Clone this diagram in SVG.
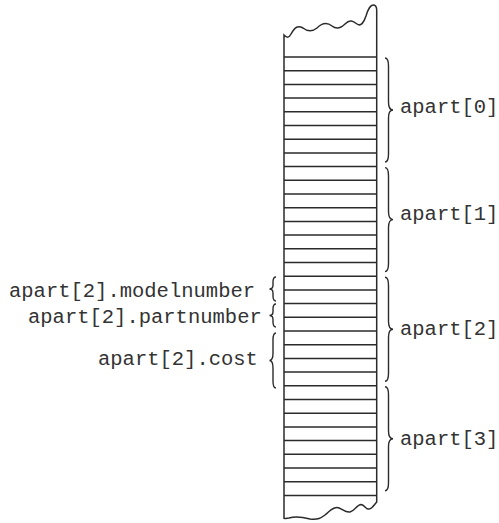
<svg xmlns="http://www.w3.org/2000/svg" width="499" height="523" viewBox="0 0 499 523">
<style>
.ln{fill:none;stroke:#2b2b2b;stroke-width:1.5}
.br{fill:none;stroke:#2b2b2b;stroke-width:1.4}
.t{font-family:"Liberation Mono","Courier New",monospace;font-size:20.5px;fill:#333}
</style>
<rect width="499" height="523" fill="#fff"/>
<g id="memory">
<path class="ln" d="M284,35 C287,38 289,38 291,34 C295,27 298,25 303,28 C308,32 312,32 317,28 C322,23 327,22 332,26 C337,30 341,28 345,24 C350,19 353,21 357,24 C361,27 364,22 366,16 C368,9 371,5 373,5 C376,5 376.7,7 376.7,10 L376.7,502 C374,505 372,509 369,509 C366,510 365,505 361,504.5 C357,504.5 355,511 350,512 C345,513 341,507.5 337,507.5 C332,507.5 329,512 325,515 C321,518 318,520 310,519 C302,517 296,516 289,518 C287,518.5 285,518.5 284,518.3 Z"/>
<path class="ln" d="M284,57H376.7M284,70.7H376.7M284,84.4H376.7M284,98.1H376.7M284,111.8H376.7M284,125.5H376.7M284,139.2H376.7M284,152.9H376.7M284,166.6H376.7M284,180.3H376.7M284,194H376.7M284,207.7H376.7M284,221.4H376.7M284,235.1H376.7M284,248.8H376.7M284,262.5H376.7M284,276.2H376.7M284,289.9H376.7M284,303.6H376.7M284,317.3H376.7M284,331H376.7M284,344.7H376.7M284,358.4H376.7M284,372.1H376.7M284,385.8H376.7M284,399.5H376.7M284,413.2H376.7M284,426.9H376.7M284,440.6H376.7M284,454.3H376.7M284,468H376.7M284,481.7H376.7M284,495.4H376.7"/>
</g>
<g id="apart0">
<path class="br" d="M385,58 C388,58 388.5,61 388.5,66 L388.5,102 C388.5,107 390,110 393,110 C390,110 388.5,113 388.5,118 L388.5,154 C388.5,159 388,162 385,162"/>
<text class="t" x="400" y="113">apart[0]</text>
</g>
<g id="apart1">
<path class="br" d="M385,167.6 C388,167.6 388.5,170.6 388.5,175.6 L388.5,211.6 C388.5,216.6 390,219.6 393,219.6 C390,219.6 388.5,222.6 388.5,227.6 L388.5,263.6 C388.5,268.6 388,271.6 385,271.6"/>
<text class="t" x="400" y="220">apart[1]</text>
</g>
<g id="apart2">
<path class="br" d="M385,277.2 C388,277.2 388.5,280.2 388.5,285.2 L388.5,321.2 C388.5,326.2 390,329.2 393,329.2 C390,329.2 388.5,332.2 388.5,337.2 L388.5,373.2 C388.5,378.2 388,381.2 385,381.2"/>
<text class="t" x="400" y="335">apart[2]</text>
</g>
<g id="apart3">
<path class="br" d="M385,386.8 C388,386.8 388.5,389.8 388.5,394.8 L388.5,430.8 C388.5,435.8 390,438.8 393,438.8 C390,438.8 388.5,441.8 388.5,446.8 L388.5,482.8 C388.5,487.8 388,490.8 385,490.8"/>
<text class="t" x="400" y="445">apart[3]</text>
</g>
<g id="modelnumber">
<path class="br" d="M276,277 C273.5,277 273,279 273,282 L273,285 C273,287.5 271.5,289 269.5,289 C271.5,289 273,290.5 273,293 L273,296 C273,299 273.5,301 276,301"/>
<text class="t" x="9" y="297">apart[2].modelnumber</text>
</g>
<g id="partnumber">
<path class="br" d="M276,304 C273.5,304 273,306 273,309 L273,311.5 C273,314 271.5,315.5 269.5,315.5 C271.5,315.5 273,317 273,319.5 L273,322 C273,325 273.5,327 276,327"/>
<text class="t" x="28" y="323.3">apart[2].partnumber</text>
</g>
<g id="cost">
<path class="br" d="M276,333 C273.5,333 273,335.5 273,340 L273,353 C273,357.5 271.5,360.5 269.5,360.5 C271.5,360.5 273,363.5 273,368 L273,381 C273,385.5 273.5,388 276,388"/>
<text class="t" x="98" y="365">apart[2].cost</text>
</g>
</svg>
